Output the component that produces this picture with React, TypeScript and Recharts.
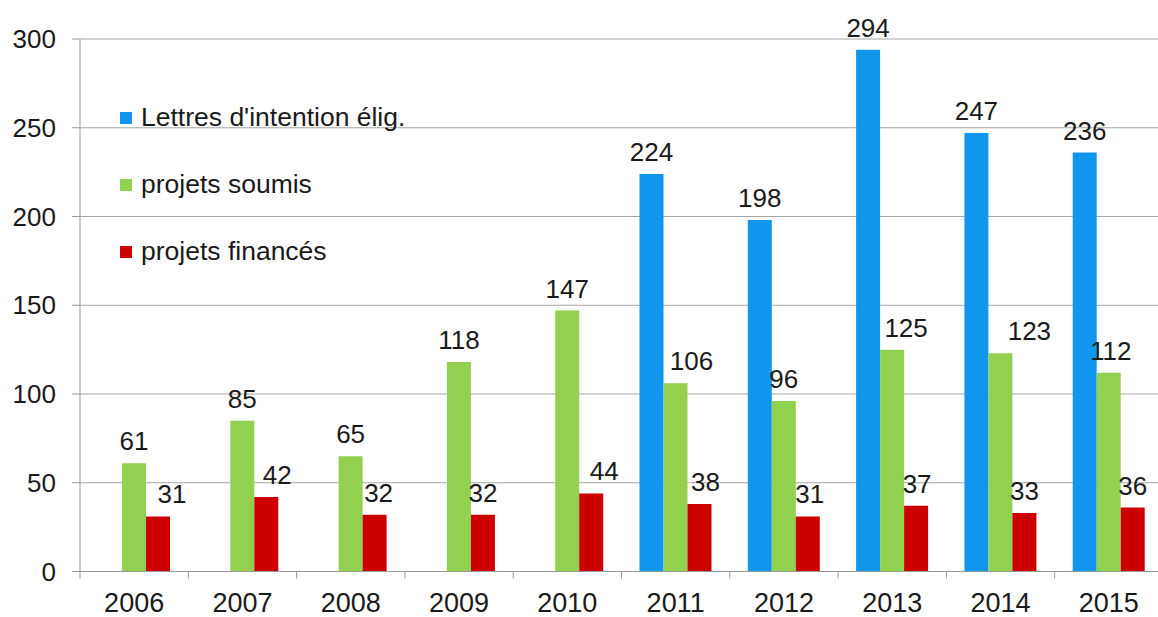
import { Bar, BarChart, CartesianGrid, LabelList, XAxis, YAxis } from "recharts";

const years = ["2006", "2007", "2008", "2009", "2010", "2011", "2012", "2013", "2014", "2015"];
const lettres = [null, null, null, null, null, 224, 198, 294, 247, 236];
const soumis = [61, 85, 65, 118, 147, 106, 96, 125, 123, 112];
const finances = [31, 42, 32, 32, 44, 38, 31, 37, 33, 36];
const yTicks = [0, 50, 100, 150, 200, 250, 300];

// horizontal nudges of the value labels, as placed by hand in the original
const labelShift: Record<string, number[]> = {
  lettres: [0, 0, 0, 0, 0, 0, 0, 0, 0, 0],
  soumis: [0, 0, 0, 0, 0, 16, 0, 14, 29, 2],
  finances: [14, 11, 4, 0, 13, 6, 2, 1, 0, 0],
};

const series = [
  { key: "lettres", name: "Lettres d'intention élig.", color: "#1196ee" },
  { key: "soumis", name: "projets soumis", color: "#92d050" },
  { key: "finances", name: "projets financés", color: "#cc0000" },
];

const data = years.map((year, i) => ({
  year,
  lettres: lettres[i],
  soumis: soumis[i],
  finances: finances[i],
}));

const FONT = "Arial, 'Liberation Sans', sans-serif";
const BAND = 108.3;

function XTick(props: any) {
  const { x, y, payload, index } = props;
  const left = x - BAND / 2;
  return (
    <g>
      <line x1={left} y1={y - 8} x2={left} y2={y - 1} stroke="#999" />
      {index === years.length - 1 && (
        <line x1={x + BAND / 2} y1={y - 8} x2={x + BAND / 2} y2={y - 1} stroke="#999" />
      )}
      <text x={x} y={y + 32} textAnchor="middle" fontSize={27} fill="#1a1a1a" fontFamily={FONT}>
        {payload.value}
      </text>
    </g>
  );
}

function makeLabel(key: string) {
  return (props: any) => {
    const { x, y, width, value, index } = props;
    if (value == null) return null;
    return (
      <text
        x={x + width / 2 + labelShift[key][index]}
        y={y - 13}
        textAnchor="middle"
        fontSize={26}
        fill="#1a1a1a"
        fontFamily={FONT}
      >
        {value}
      </text>
    );
  };
}

function LegendBox() {
  return (
    <div
      style={{
        position: "absolute",
        left: 120,
        top: 84,
        fontFamily: FONT,
        fontSize: 26.5,
        color: "#1a1a1a",
      }}
    >
      {series.map((s) => (
        <div key={s.key} style={{ display: "flex", alignItems: "center", height: 67 }}>
          <span
            style={{ width: 12, height: 12, background: s.color, marginRight: 9, display: "inline-block" }}
          />
          <span>{s.name}</span>
        </div>
      ))}
    </div>
  );
}

export default function App() {
  return (
    <div
      style={{
        position: "absolute",
        left: 0,
        top: 0,
        width: 1158,
        height: 617,
        overflow: "hidden",
        background: "#fff",
      }}
    >
      <BarChart
        width={1170}
        height={617}
        data={data}
        margin={{ top: 39, right: 7, left: 0, bottom: 5 }}
        barGap={0}
        barCategoryGap={18}
      >
        <CartesianGrid vertical={false} stroke="#a6a6a6" />
        <XAxis
          dataKey="year"
          height={40.5}
          stroke="#999"
          tickLine={false}
          tick={<XTick />}
          interval={0}
        />
        <YAxis
          width={80}
          domain={[0, 300]}
          ticks={yTicks}
          stroke="#999"
          tickSize={8}
          tickMargin={16}
          tick={{ fontSize: 26, fill: "#1a1a1a", fontFamily: FONT }}
        />
        {series.map((s) => (
          <Bar key={s.key} dataKey={s.key} name={s.name} fill={s.color} barSize={24} isAnimationActive={false}>
            <LabelList dataKey={s.key} content={makeLabel(s.key)} />
          </Bar>
        ))}
      </BarChart>
      <LegendBox />
    </div>
  );
}
